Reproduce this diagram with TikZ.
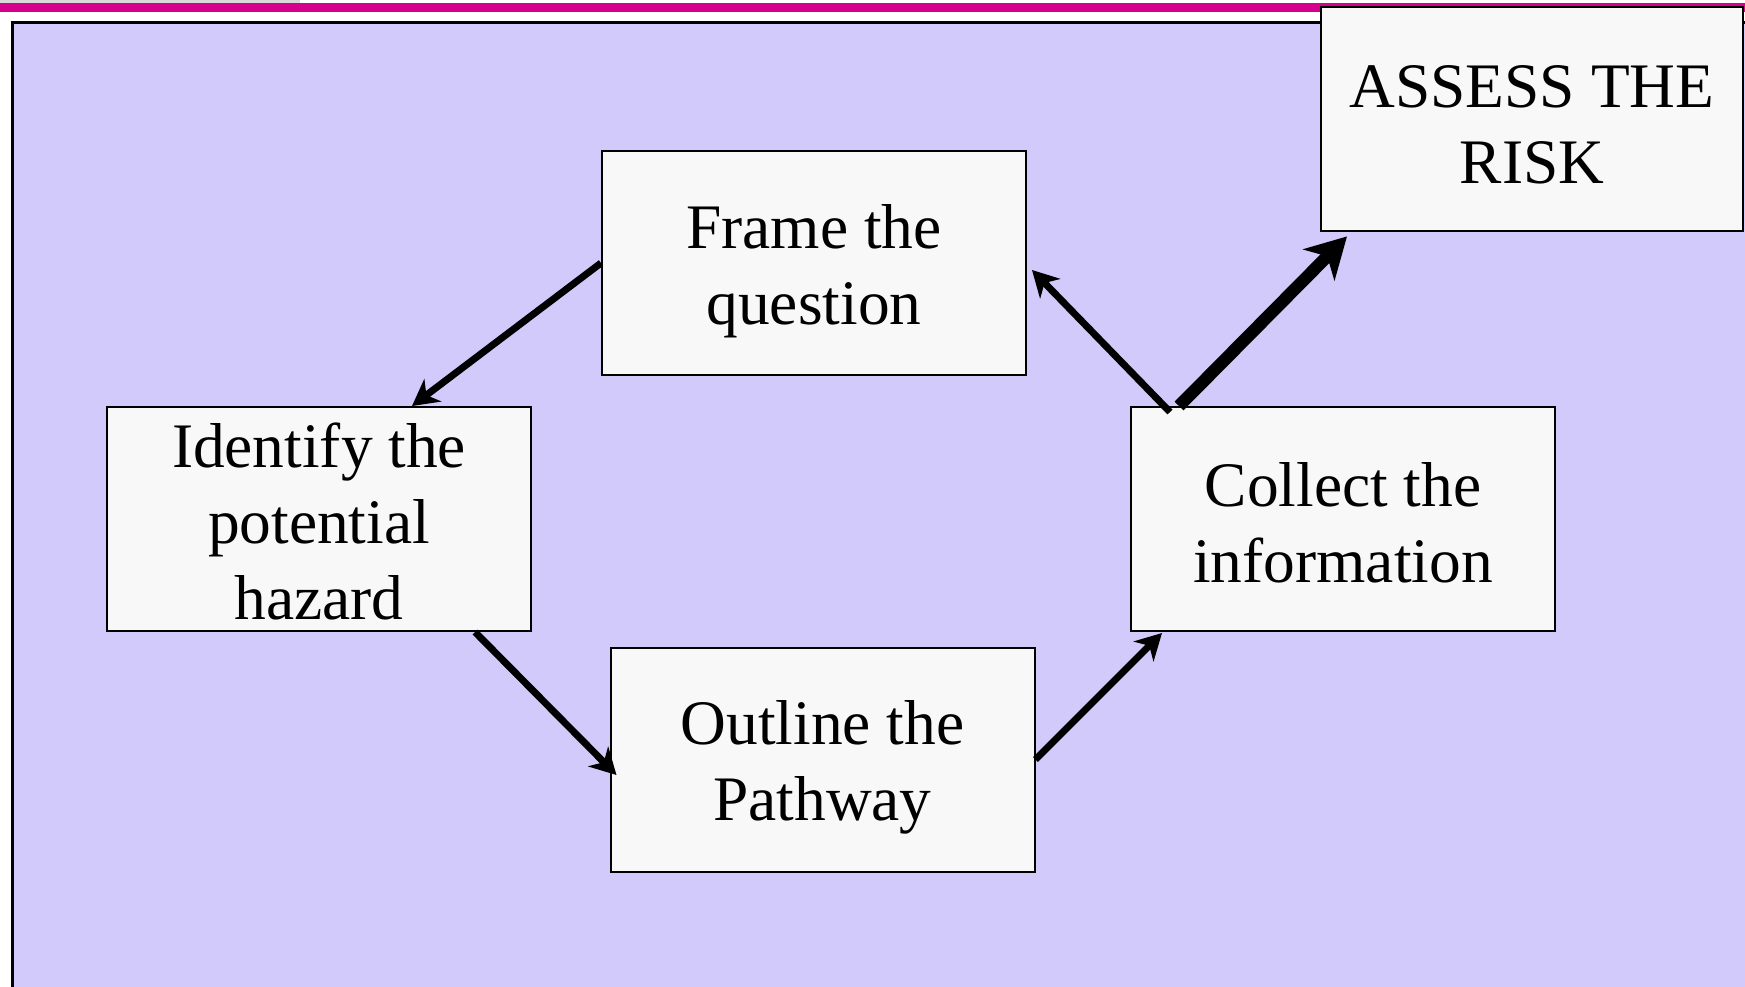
\documentclass[tikz,border=0pt]{standalone}
\usepackage{fontspec}
\setmainfont{Liberation Serif}
\usetikzlibrary{arrows.meta,calc}
\definecolor{panel}{RGB}{210,202,250}
\definecolor{boxfill}{RGB}{248,248,248}
\definecolor{banner}{RGB}{214,0,143}
\begin{document}
\begin{tikzpicture}[x=0.5pt,y=-0.5pt,
  stepbox/.style={draw=black, fill=boxfill, line width=1pt, inner sep=0pt,
    minimum width=212pt, minimum height=112pt},
  steptext/.style={align=center, inner sep=0pt,
    font=\fontsize{31.7}{38}\selectfont},
  flow/.style={line width=3.5pt, -{Stealth[length=13pt,width=14pt,inset=4pt]}},
  bigflow/.style={line width=6.2pt, -{Stealth[length=20pt,width=22pt,inset=6pt]}}]
\useasboundingbox (0,0) rectangle (1745,986);
% page header strip and rule
\fill[black!15] (0,0) rectangle (300,3);
\fill[banner] (0,3) rectangle (1745,12);
% lavender panel
\draw[fill=panel, line width=1.5pt] (12,22) rectangle (1760,1000);
% process steps
\node[stepbox] (frame)   at (814,263)   {};
\node[stepbox] (ident)   at (319,519)   {};
\node[stepbox] (collect) at (1343,519)  {};
\node[stepbox] (outline) at (822.5,759.5) {};
\node[stepbox, minimum width=211pt, minimum height=112.4pt] (assess) at (1532,119) {};
% step labels
\node[steptext] (frameT)   at ($(frame)+(0,8)$)    {Frame the\\question};
\node[steptext] (identT)   at ($(ident)+(0,2)$)    {Identify the\\potential\\hazard};
\node[steptext] (collectT) at ($(collect)+(0,4)$)  {Collect the\\information};
\node[steptext] (outlineT) at ($(outline)+(0,8)$)  {Outline the\\Pathway};
\node[steptext] (assessT)  at ($(assess)+(0,6)$)   {ASSESS THE\\RISK};
% anchor points of the connectors
\coordinate (identIn)   at ($(ident.north)+(93,0)$);
\coordinate (identOut)  at ($(ident.south)+(156,0)$);
\coordinate (outlineIn) at ($(outline.west)+(7,15.5)$);
\coordinate (collectIn) at ($(collect.south)+(-181,1)$);
\coordinate (collectOut) at ($(collect.north)+(-173,6)$);
\coordinate (frameIn)   at ($(frame.east)+(5,7)$);
\coordinate (riskOut)   at ($(collect.north)+(-164,0)$);
\coordinate (riskIn)    at ($(assess.south west)+(27,4)$);
% connectors
\draw[flow] (frame.west) -- (identIn);
\draw[flow] (identOut) -- (outlineIn);
\draw[flow] (outline.east) -- (collectIn);
\draw[flow] (collectOut) -- (frameIn);
\draw[bigflow] (riskOut) -- (riskIn);
\end{tikzpicture}
\end{document}
